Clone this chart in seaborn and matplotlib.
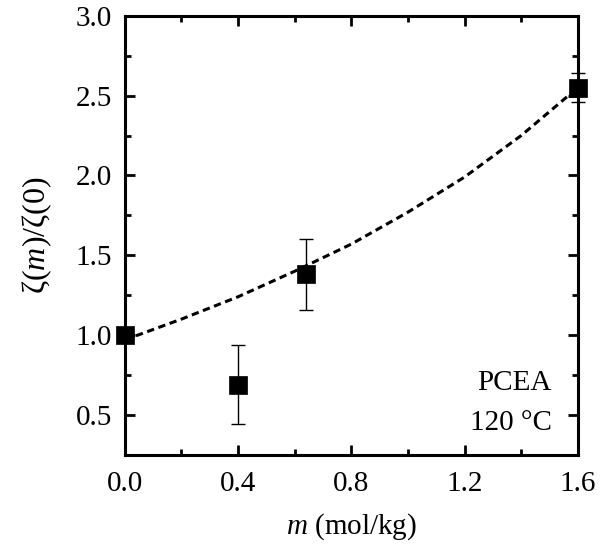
import numpy as np
import pandas as pd
import matplotlib
matplotlib.use("Agg")
import matplotlib.pyplot as plt
import seaborn as sns
from matplotlib.ticker import MultipleLocator

# data
m_vals = [0.0, 0.40, 0.64, 1.60]
zeta_ratio = [1.00, 0.69, 1.38, 2.55]
zeta_err = [0.0, 0.245, 0.22, 0.09]

fit_m = [0.0, 0.2, 0.4, 0.6, 0.8, 1.0, 1.2, 1.4, 1.6]
fit_zeta = [0.97, 1.10, 1.24, 1.40, 1.57, 1.77, 1.99, 2.25, 2.55]

xticks = [0.0, 0.4, 0.8, 1.2, 1.6]
yticks = [0.5, 1.0, 1.5, 2.0, 2.5, 3.0]

sns.set_theme(style="ticks")
plt.rcParams['font.family'] = ['Liberation Serif', 'DejaVu Serif']
plt.rcParams['mathtext.fontset'] = 'custom'
plt.rcParams['mathtext.rm'] = 'Liberation Serif'
plt.rcParams['mathtext.it'] = 'Liberation Serif:italic'
plt.rcParams['text.color'] = 'black'
plt.rcParams['axes.labelcolor'] = 'black'

FS = 21

fig = plt.figure(figsize=(6.0, 5.46), dpi=100)
ax = fig.add_axes([0.208, 0.167, 0.755, 0.804])

pts = pd.DataFrame({"m": m_vals, "z": zeta_ratio, "e": zeta_err})
fit = pd.DataFrame({"m": fit_m, "z": fit_zeta})

sns.lineplot(data=fit, x="m", y="z", ax=ax, color="black", lw=2.2,
             linestyle=(0, (2.4, 1.5)), zorder=2, clip_on=False)
ax.errorbar(pts["m"], pts["z"], yerr=pts["e"], fmt="none", ecolor="black",
            elinewidth=1.0, capsize=5, capthick=1.0, zorder=3, clip_on=False)
sns.scatterplot(data=pts, x="m", y="z", ax=ax, marker="s", s=160, color="black",
                edgecolor="black", linewidth=0.5, zorder=4, clip_on=False)

ax.set_xlim(0.0, 1.6)
ax.set_ylim(0.25, 3.0)
ax.set_xticks(xticks)
ax.set_xticklabels([f"{v:.1f}" for v in xticks])
ax.set_yticks(yticks)
ax.set_yticklabels([f"{v:.1f}" for v in yticks])
ax.xaxis.set_minor_locator(MultipleLocator(0.2))
ax.yaxis.set_minor_locator(MultipleLocator(0.25))

for s in ax.spines.values():
    s.set_linewidth(2.2)
    s.set_color("black")
ax.tick_params(which="both", direction="in", top=True, right=True,
               labelsize=FS, colors="black", width=2.0)
ax.tick_params(axis="x", which="major", pad=12)
ax.tick_params(axis="y", which="major", pad=9)
ax.tick_params(which="major", length=7)
ax.tick_params(which="minor", length=4)

ax.set_xlabel("$m$ (mol/kg)", fontsize=FS, labelpad=10, color="black")
ax.set_ylabel("ζ($m$)/ζ(0)", fontsize=23, labelpad=16, color="black")

ax.text(0.943, 0.164, "PCEA", transform=ax.transAxes, ha="right", va="center",
        fontsize=FS, color="black")
ax.text(0.943, 0.073, "120 °C", transform=ax.transAxes, ha="right", va="center",
        fontsize=FS, color="black")

fig.savefig("out.png", dpi=100)
